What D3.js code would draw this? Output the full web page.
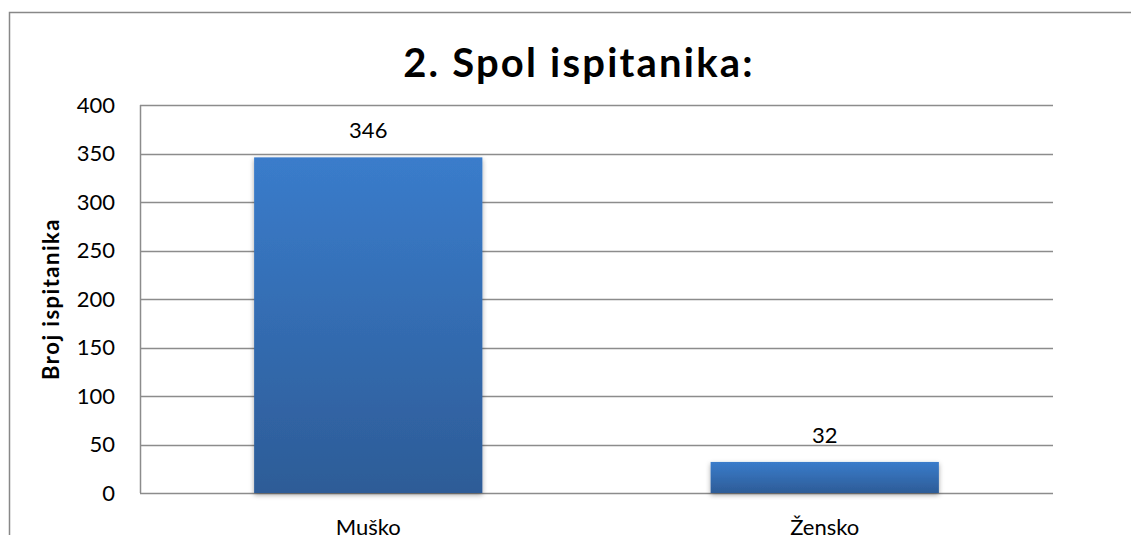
<!DOCTYPE html>
<html>
<head>
<meta charset="utf-8">
<script src="https://cdn.jsdelivr.net/npm/d3@7"></script>
<style>
  body { margin: 0; background: #fff; }
  svg { display: block; }
  text { font-family: Lato, "Open Sans", sans-serif; fill: #000; }
</style>
</head>
<body>
<div id="chart"></div>
<script>
const width = 1131;
const height = 535;

const categories = ["Muško", "Žensko"];
const values = [346, 32];
const yTicks = [0, 50, 100, 150, 200, 250, 300, 350, 400];

const margin = { top: 105, right: 78, bottom: 42, left: 140 };

const svg = d3.select("#chart")
  .append("svg")
  .attr("width", width)
  .attr("height", height);

const defs = svg.append("defs");
const grad = defs.append("linearGradient")
  .attr("id", "barGrad")
  .attr("x1", 0).attr("y1", 0).attr("x2", 0).attr("y2", 1);
grad.append("stop").attr("offset", "0%").attr("stop-color", "#3a7ccb");
grad.append("stop").attr("offset", "100%").attr("stop-color", "#2d5c97");

const shadow = defs.append("filter")
  .attr("id", "shadow")
  .attr("x", "-10%").attr("y", "-10%")
  .attr("width", "120%").attr("height", "130%");
shadow.append("feDropShadow")
  .attr("dx", 0).attr("dy", 2)
  .attr("stdDeviation", 2.5)
  .attr("flood-color", "#000")
  .attr("flood-opacity", 0.35);

// outer chart border (runs off the right and bottom edges)
svg.append("rect")
  .attr("x", 9.5).attr("y", 12.5)
  .attr("width", 1200).attr("height", 600)
  .attr("fill", "none")
  .attr("stroke", "#888")
  .attr("stroke-width", 1.5);

const x = d3.scaleBand()
  .domain(categories)
  .range([margin.left, width - margin.right])
  .paddingInner(0.5)
  .paddingOuter(0.25);

const y = d3.scaleLinear()
  .domain([0, 400])
  .range([height - margin.bottom, margin.top]);

// gridlines
svg.append("g")
  .selectAll("line")
  .data(yTicks)
  .enter()
  .append("line")
  .attr("x1", margin.left)
  .attr("x2", width - margin.right)
  .attr("y1", d => Math.round(y(d)) + 0.5)
  .attr("y2", d => Math.round(y(d)) + 0.5)
  .attr("stroke", "#8c8c8c")
  .attr("stroke-width", 1.5);

// y axis line
svg.append("line")
  .attr("x1", margin.left + 0.5)
  .attr("x2", margin.left + 0.5)
  .attr("y1", y(400))
  .attr("y2", y(0))
  .attr("stroke", "#8c8c8c")
  .attr("stroke-width", 1.5);

// y tick labels
svg.append("g")
  .selectAll("text")
  .data(yTicks)
  .enter()
  .append("text")
  .attr("x", 115)
  .attr("y", d => y(d))
  .attr("dy", "0.35em")
  .attr("text-anchor", "end")
  .attr("font-size", "22px")
  .text(d => d);

// bars
svg.append("g")
  .selectAll("rect")
  .data(values)
  .enter()
  .append("rect")
  .attr("x", (d, i) => x(categories[i]))
  .attr("y", d => y(d))
  .attr("width", x.bandwidth())
  .attr("height", d => y(0) - y(d))
  .attr("fill", "url(#barGrad)")
  .attr("filter", "url(#shadow)");

// value labels
svg.append("g")
  .selectAll("text")
  .data(values)
  .enter()
  .append("text")
  .attr("x", (d, i) => x(categories[i]) + x.bandwidth() / 2)
  .attr("y", d => y(d) - 19)
  .attr("text-anchor", "middle")
  .attr("font-size", "22px")
  .text(d => d);

// category labels (cut off by the bottom edge, as in the original)
svg.append("g")
  .selectAll("text")
  .data(categories)
  .enter()
  .append("text")
  .attr("x", d => x(d) + x.bandwidth() / 2)
  .attr("y", 535)
  .attr("text-anchor", "middle")
  .attr("font-size", "22px")
  .text(d => d);

// title
svg.append("text")
  .attr("x", 579)
  .attr("y", 77)
  .attr("text-anchor", "middle")
  .attr("font-size", "40px")
  .attr("font-weight", "bold")
  .attr("letter-spacing", "2.2px")
  .text("2. Spol ispitanika:");

// y axis title
svg.append("text")
  .attr("transform", "translate(59," + y(200) + ") rotate(-90)")
  .attr("text-anchor", "middle")
  .attr("font-size", "22px")
  .attr("font-weight", "bold")
  .attr("letter-spacing", "1.5px")
  .text("Broj ispitanika");
</script>
</body>
</html>
